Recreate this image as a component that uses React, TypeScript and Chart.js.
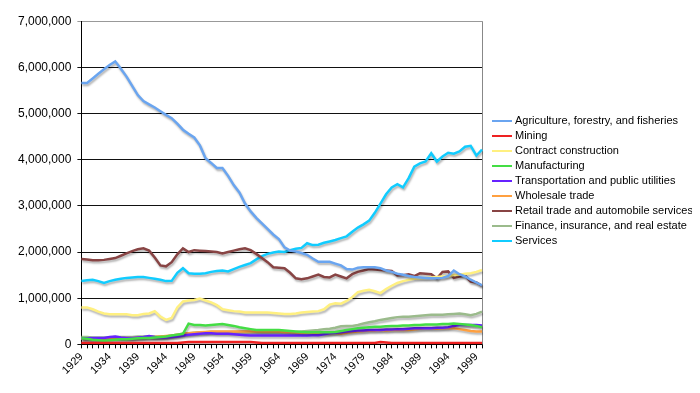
import React, { useEffect, useRef } from "react";
import { Chart, registerables } from "chart.js";

Chart.register(...registerables);

const years: string[] = [];
for (let y = 1929; y <= 2000; y++) years.push(String(y));

// values in millions of persons
const agriculture = [5.66,5.66,5.76,5.86,5.96,6.05,6.13,5.97,5.80,5.60,5.40,5.27,5.20,5.13,5.05,4.97,4.90,4.78,4.65,4.56,4.48,4.31,4.03,3.93,3.82,3.82,3.65,3.45,3.29,3.05,2.88,2.74,2.62,2.50,2.38,2.28,2.10,2.03,2.01,1.98,1.94,1.86,1.79,1.79,1.79,1.75,1.71,1.63,1.62,1.66,1.67,1.67,1.67,1.65,1.60,1.57,1.53,1.51,1.48,1.46,1.45,1.44,1.43,1.43,1.44,1.48,1.60,1.52,1.47,1.40,1.34,1.28];
const mining = [0.03,0.03,0.03,0.03,0.03,0.03,0.03,0.03,0.03,0.03,0.03,0.03,0.03,0.03,0.03,0.03,0.03,0.03,0.04,0.05,0.05,0.05,0.05,0.05,0.05,0.05,0.05,0.05,0.05,0.05,0.05,0.04,0.03,0.03,0.03,0.03,0.03,0.03,0.03,0.03,0.03,0.03,0.03,0.03,0.03,0.03,0.03,0.03,0.03,0.03,0.03,0.03,0.03,0.05,0.04,0.03,0.03,0.03,0.03,0.03,0.03,0.03,0.03,0.03,0.03,0.03,0.03,0.03,0.03,0.03,0.03,0.03];
const construction = [0.80,0.80,0.76,0.71,0.67,0.65,0.65,0.65,0.65,0.63,0.63,0.66,0.67,0.72,0.60,0.53,0.57,0.80,0.93,0.95,0.96,0.99,0.95,0.91,0.85,0.76,0.74,0.72,0.71,0.69,0.69,0.69,0.69,0.69,0.68,0.67,0.66,0.66,0.67,0.69,0.70,0.71,0.72,0.76,0.86,0.89,0.88,0.94,1.02,1.13,1.16,1.18,1.15,1.11,1.20,1.27,1.33,1.37,1.40,1.42,1.43,1.44,1.45,1.46,1.47,1.48,1.50,1.51,1.53,1.54,1.57,1.61];
const manufacturing = [0.13,0.12,0.10,0.09,0.08,0.09,0.10,0.11,0.11,0.12,0.13,0.14,0.14,0.15,0.16,0.17,0.19,0.21,0.23,0.45,0.42,0.42,0.41,0.42,0.43,0.44,0.42,0.40,0.37,0.35,0.33,0.31,0.31,0.31,0.31,0.31,0.30,0.29,0.28,0.27,0.26,0.26,0.26,0.26,0.26,0.27,0.29,0.31,0.33,0.35,0.36,0.37,0.38,0.38,0.39,0.40,0.40,0.41,0.41,0.42,0.42,0.43,0.43,0.43,0.44,0.44,0.45,0.44,0.43,0.42,0.40,0.37];
const transportation = [0.13,0.13,0.14,0.14,0.14,0.16,0.17,0.15,0.14,0.14,0.15,0.16,0.18,0.16,0.15,0.15,0.16,0.17,0.19,0.21,0.22,0.23,0.24,0.24,0.23,0.23,0.23,0.22,0.21,0.20,0.19,0.19,0.19,0.19,0.19,0.19,0.19,0.19,0.19,0.19,0.19,0.20,0.20,0.22,0.24,0.25,0.26,0.28,0.29,0.30,0.30,0.31,0.31,0.31,0.32,0.32,0.33,0.33,0.34,0.35,0.35,0.35,0.35,0.36,0.36,0.37,0.40,0.42,0.42,0.42,0.42,0.41];
const wholesale = [0.12,0.12,0.12,0.12,0.12,0.13,0.13,0.14,0.14,0.14,0.15,0.15,0.16,0.16,0.17,0.18,0.19,0.21,0.23,0.24,0.25,0.26,0.27,0.28,0.28,0.28,0.28,0.28,0.28,0.28,0.28,0.28,0.28,0.28,0.28,0.28,0.27,0.27,0.26,0.25,0.25,0.25,0.24,0.24,0.24,0.25,0.23,0.25,0.27,0.28,0.29,0.30,0.30,0.31,0.30,0.31,0.31,0.31,0.31,0.32,0.34,0.35,0.35,0.34,0.35,0.35,0.35,0.33,0.31,0.29,0.28,0.28];
const retail = [1.85,1.84,1.82,1.82,1.83,1.85,1.87,1.92,1.97,2.02,2.06,2.08,2.03,1.88,1.71,1.69,1.78,1.95,2.08,2.00,2.04,2.03,2.02,2.01,2.00,1.97,2.00,2.03,2.06,2.08,2.04,1.96,1.87,1.78,1.67,1.66,1.65,1.55,1.43,1.41,1.43,1.47,1.51,1.46,1.45,1.51,1.47,1.43,1.52,1.57,1.60,1.63,1.62,1.61,1.60,1.59,1.49,1.50,1.52,1.48,1.54,1.53,1.52,1.43,1.57,1.58,1.44,1.47,1.49,1.36,1.34,1.27];
const finance = [0.16,0.16,0.15,0.15,0.15,0.15,0.16,0.16,0.16,0.16,0.17,0.17,0.17,0.17,0.17,0.17,0.19,0.21,0.23,0.24,0.25,0.26,0.26,0.27,0.27,0.27,0.27,0.27,0.27,0.27,0.27,0.27,0.26,0.26,0.26,0.26,0.26,0.26,0.27,0.28,0.29,0.30,0.31,0.33,0.34,0.36,0.39,0.40,0.40,0.42,0.45,0.48,0.50,0.53,0.55,0.57,0.59,0.60,0.60,0.61,0.62,0.63,0.64,0.64,0.64,0.65,0.66,0.67,0.65,0.63,0.66,0.71];
const services = [1.375,1.39,1.40,1.37,1.33,1.37,1.40,1.42,1.44,1.45,1.46,1.46,1.44,1.42,1.40,1.37,1.375,1.55,1.65,1.54,1.53,1.53,1.54,1.57,1.59,1.60,1.58,1.63,1.68,1.72,1.76,1.84,1.91,1.96,1.99,2.01,2.00,2.04,2.07,2.09,2.19,2.15,2.16,2.20,2.23,2.26,2.30,2.34,2.44,2.53,2.60,2.68,2.85,3.05,3.25,3.40,3.47,3.40,3.60,3.85,3.92,3.96,4.14,3.96,4.07,4.15,4.13,4.18,4.28,4.30,4.09,4.22];

const seriesNames = [
  "Agriculture, forestry, and fisheries",
  "Mining",
  "Contract construction",
  "Manufacturing",
  "Transportation and public utilities",
  "Wholesale trade",
  "Retail trade and automobile services",
  "Finance, insurance, and real estate",
  "Services",
];
const seriesValues = [agriculture, mining, construction, manufacturing, transportation, wholesale, retail, finance, services];
const seriesColors = ["#6aa5f0", "#ee2222", "#fff080", "#44dd44", "#6622ff", "#ffa040", "#884444", "#9bbb8c", "#11ccff"];

const FONT = "'Liberation Sans', Arial, sans-serif";

const shadowPlugin = {
  id: "lineShadow",
  beforeDatasetDraw(chart: any) {
    const ctx = chart.ctx;
    ctx.save();
    ctx.shadowColor = "rgba(0,0,0,0.3)";
    ctx.shadowBlur = 2;
    ctx.shadowOffsetX = 1;
    ctx.shadowOffsetY = 2;
  },
  afterDatasetDraw(chart: any) {
    chart.ctx.restore();
  },
};

const borderPlugin = {
  id: "rightBorder",
  beforeDatasetsDraw(chart: any) {
    const { ctx, chartArea } = chart;
    ctx.save();
    ctx.strokeStyle = "#888";
    ctx.lineWidth = 1;
    ctx.beginPath();
    ctx.moveTo(Math.round(chartArea.right) + 0.5, chartArea.top);
    ctx.lineTo(Math.round(chartArea.right) + 0.5, chartArea.bottom);
    ctx.stroke();
    ctx.restore();
  },
};

const legendPlugin = {
  id: "sideLegend",
  afterDraw(chart: any) {
    const { ctx, chartArea } = chart;
    const step = 15;
    const mid = (chartArea.top + chartArea.bottom) / 2;
    const y0 = mid - step * (seriesNames.length - 1) / 2 - 1.5;
    const x0 = chartArea.right + 10;
    ctx.save();
    ctx.font = `11px ${FONT}`;
    ctx.textBaseline = "middle";
    ctx.textAlign = "left";
    seriesNames.forEach((name, i) => {
      const y = y0 + i * step;
      ctx.fillStyle = seriesColors[i];
      ctx.fillRect(x0, Math.round(y) - 1, 20, 2);
      ctx.fillStyle = "#000";
      ctx.fillText(name, x0 + 23, y);
    });
    ctx.restore();
  },
};

export default function App() {
  const ref = useRef<HTMLCanvasElement | null>(null);
  useEffect(() => {
    if (!ref.current) return;
    const font = { family: FONT, size: 11 };
    const chart = new Chart(ref.current, {
      type: "line",
      data: {
        labels: years,
        datasets: seriesNames.map((name, i) => ({
          label: name,
          data: seriesValues[i].map((v) => v * 1000000),
          borderColor: seriesColors[i],
          backgroundColor: seriesColors[i],
          borderWidth: 2.5,
          pointRadius: 0,
          tension: 0,
          fill: false,
        })),
      },
      options: {
        animation: false,
        responsive: true,
        maintainAspectRatio: false,
        layout: { padding: { top: 12, right: 210, bottom: 6, left: 4 } },
        scales: {
          x: {
            offset: false,
            grid: { display: true, drawOnChartArea: false, drawTicks: true, tickLength: 4, color: "#000" },
            border: { display: true, color: "#000", width: 1 },
            ticks: {
              autoSkip: false,
              minRotation: 45,
              maxRotation: 45,
              color: "#000",
              font,
              padding: 2,
              callback: (_v: any, idx: number) => (idx % 5 === 0 ? years[idx] : ""),
            },
          },
          y: {
            min: 0,
            max: 7000000,
            grid: {
              color: (c: any) => (c.tick && c.tick.value === 7000000 ? "#999" : "#111"),
              tickLength: 4,
            },
            border: { display: true, color: "#000" },
            ticks: {
              stepSize: 1000000,
              color: "#000",
              font: { ...font, size: 12 },
              padding: 6,
              callback: (v: any) => Number(v).toLocaleString("en-US"),
            },
          },
        },
        plugins: {
          tooltip: { enabled: false },
          legend: { display: false },
        },
      },
      plugins: [shadowPlugin, borderPlugin, legendPlugin],
    });
    return () => chart.destroy();
  }, []);
  return (
    <div style={{ width: 684, height: 377, position: "relative" }}>
      <canvas ref={ref} />
    </div>
  );
}
